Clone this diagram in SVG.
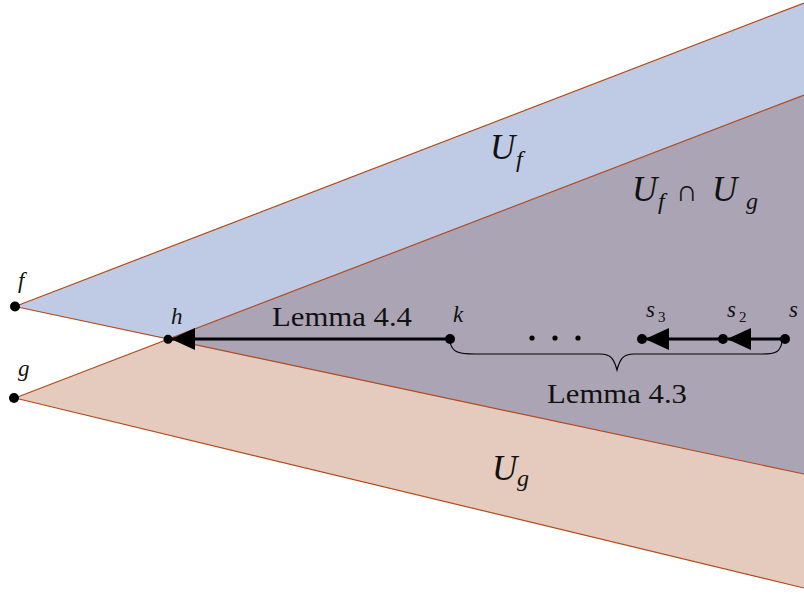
<svg xmlns="http://www.w3.org/2000/svg" width="804" height="594" viewBox="0 0 804 594">
<style>
.edge{stroke:#b24a1c;stroke-width:1.2;fill:none}
.dot{fill:#000}
.ml{font-family:"Liberation Serif","Times New Roman",Times,serif;font-style:italic;fill:#111}
.rm{font-family:"Liberation Serif","Times New Roman",Times,serif;font-style:normal;fill:#111}
.arr{stroke:#000;stroke-width:3.2;fill:none}
</style>
<defs>
<marker id="ah" markerUnits="userSpaceOnUse" viewBox="0 0 24 22" markerWidth="24" markerHeight="22" refX="23" refY="11" orient="auto">
<path d="M0,0 L24,11 L0,22 z" fill="#000"/>
</marker>
</defs>
<rect width="804" height="594" fill="#fff"/>
<g id="regions">
<polygon id="Ug" points="15,398 804,95 804,588" fill="#e4cbbe"/>
<polygon id="Uf" points="15,306.5 804,3 804,474" fill="#bfcbe4"/>
<polygon id="UfUg" points="168,339.3 804,95 804,474" fill="#aba4b5"/>
<line class="edge" x1="15" y1="306.5" x2="804" y2="3"/>
<line class="edge" x1="15" y1="306.5" x2="804" y2="474"/>
<line class="edge" x1="15" y1="398" x2="804" y2="95"/>
<line class="edge" x1="15" y1="398" x2="804" y2="588"/>
<text class="ml" x="490" y="159" font-size="35">U</text>
<text class="ml" x="516" y="167" font-size="24">f</text>
<text class="ml" x="632" y="201" font-size="35">U</text>
<text class="ml" x="658" y="209" font-size="24">f</text>
<text class="rm" x="676" y="201" font-size="30">∩</text>
<text class="ml" x="712" y="201" font-size="35">U</text>
<text class="ml" x="746" y="209" font-size="24">g</text>
<text class="ml" x="492" y="480" font-size="35">U</text>
<text class="ml" x="517" y="486" font-size="24">g</text>
</g>
<g id="connectors">
<line class="arr" x1="450" y1="339" x2="172" y2="339" marker-end="url(#ah)"/>
<line class="arr" x1="785" y1="339" x2="728" y2="339" marker-end="url(#ah)"/>
<line class="arr" x1="723" y1="339" x2="646" y2="339" marker-end="url(#ah)"/>
<path d="M450,342 C452,352 458,354 475,354 L600,354 C611,354 614,359 617,370 C620,359 623,354 634,354 L762,354 C776,354 780,352 782,342" stroke="#000" stroke-width="1.2" fill="none"/>
<text class="rm" x="272" y="326" font-size="27" textLength="140" lengthAdjust="spacingAndGlyphs">Lemma 4.4</text>
<text class="rm" x="547" y="403" font-size="27" textLength="140" lengthAdjust="spacingAndGlyphs">Lemma 4.3</text>
<circle class="dot" cx="532" cy="338" r="2.6"/>
<circle class="dot" cx="555" cy="338" r="2.6"/>
<circle class="dot" cx="578" cy="338" r="2.6"/>
</g>
<g id="f"><circle class="dot" cx="15" cy="306.5" r="5"/><text class="ml" x="18" y="288" font-size="23">f</text></g>
<g id="g"><circle class="dot" cx="14" cy="398" r="5"/><text class="ml" x="18" y="376" font-size="23">g</text></g>
<g id="h"><circle class="dot" cx="168" cy="339.3" r="4.5"/><text class="ml" x="171" y="324" font-size="23">h</text></g>
<g id="k"><circle class="dot" cx="450" cy="339" r="5"/><text class="ml" x="453" y="322" font-size="23">k</text></g>
<g id="s3"><circle class="dot" cx="642" cy="339" r="5"/><text class="ml" x="646" y="317" font-size="23">s</text><text class="rm" x="658" y="322" font-size="15">3</text></g>
<g id="s2"><circle class="dot" cx="723" cy="339" r="5"/><text class="ml" x="727" y="317" font-size="23">s</text><text class="rm" x="739" y="322" font-size="15">2</text></g>
<g id="s"><circle class="dot" cx="785" cy="339" r="5"/><text class="ml" x="789" y="317" font-size="23">s</text></g>
</svg>
